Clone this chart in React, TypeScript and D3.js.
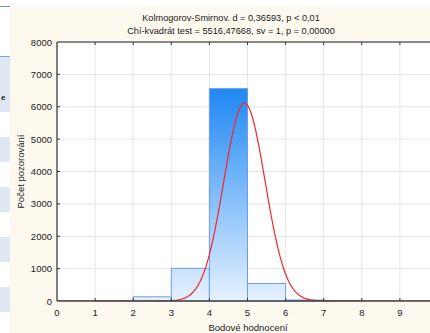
import React, { useEffect, useRef } from 'react';
import * as d3 from 'd3';

// histogram bins: [from, to] and counts
const binStarts = [0, 1, 2, 3, 4, 5, 6, 7];
const binCounts = [0, 12, 130, 1010, 6560, 540, 30, 2];

const xTicks = [0, 1, 2, 3, 4, 5, 6, 7, 8, 9];
const yTicks = [0, 1000, 2000, 3000, 4000, 5000, 6000, 7000, 8000];

// fitted normal (expected curve)
const fitMean = 4.92;
const fitSd = 0.54;
const fitN = 8284;

const titleLines = [
  'Kolmogorov-Smirnov. d = 0,36593, p < 0,01',
  'Chí-kvadrát test = 5516,47668, sv = 1, p = 0,00000',
];

const W = 430;
const H = 333;

const App: React.FC = () => {
  const svgRef = useRef<SVGSVGElement>(null);

  useEffect(() => {
    if (!svgRef.current) return;
    const svg = d3.select(svgRef.current);
    svg.selectAll('*').remove();

    const left = 57, top = 42, bottom = 301, right = 438;
    const x = d3.scaleLinear().domain([0, 10]).range([left, right]);
    const y = d3.scaleLinear().domain([0, 8000]).range([bottom, top]);
    const font = 'Arial, "Liberation Sans", sans-serif';

    // page stuff on the left
    svg.append('rect').attr('width', W).attr('height', H).attr('fill', '#ffffff');
    svg.append('line').attr('x1', 0).attr('x2', 10).attr('y1', 6.5).attr('y2', 6.5)
      .attr('stroke', '#6b96d4').attr('stroke-width', 1);
    [[56, 112], [137, 162], [187, 212], [237, 262], [287, 312]].forEach(([a, b], i) => {
      svg.append('rect').attr('x', 0).attr('y', a).attr('width', 10).attr('height', b - a)
        .attr('fill', '#dfe7f3');
      if (i === 0) {
        svg.append('line').attr('x1', 0).attr('x2', 10).attr('y1', a + 0.5).attr('y2', a + 0.5)
          .attr('stroke', '#7fa3da');
      }
    });
    svg.append('text').attr('x', 1).attr('y', 100).attr('font-family', font)
      .attr('font-size', 8).attr('font-weight', 'bold').attr('fill', '#222').text('e');

    // cream panel
    svg.append('rect').attr('x', 10).attr('y', 7).attr('width', W).attr('height', H)
      .attr('fill', '#fdf9ef');

    // title
    titleLines.forEach((t, i) => {
      svg.append('text').attr('x', 231).attr('y', 21 + i * 13)
        .attr('text-anchor', 'middle').attr('font-family', font).attr('font-size', 9.2)
        .attr('fill', '#222').text(t);
    });

    // plot area
    svg.append('rect').attr('x', left).attr('y', top).attr('width', right - left)
      .attr('height', bottom - top).attr('fill', '#ffffff');

    const defs = svg.append('defs');
    const grad = defs.append('linearGradient').attr('id', 'barGrad')
      .attr('gradientUnits', 'userSpaceOnUse')
      .attr('x1', 0).attr('x2', 0).attr('y1', y(6560)).attr('y2', bottom);
    grad.append('stop').attr('offset', '0%').attr('stop-color', '#1e87f4');
    grad.append('stop').attr('offset', '100%').attr('stop-color', '#e6f2fe');
    defs.append('clipPath').attr('id', 'plotClip').append('rect')
      .attr('x', left).attr('y', top).attr('width', right - left).attr('height', bottom - top);

    // grid
    svg.append('g').selectAll('line').data(xTicks.slice(1)).join('line')
      .attr('x1', d => x(d)).attr('x2', d => x(d)).attr('y1', top).attr('y2', bottom)
      .attr('stroke', '#e6e6e6').attr('stroke-width', 1);
    svg.append('g').selectAll('line').data(yTicks.slice(1, -1)).join('line')
      .attr('x1', left).attr('x2', right).attr('y1', d => y(d)).attr('y2', d => y(d))
      .attr('stroke', '#e6e6e6').attr('stroke-width', 1);

    // bars
    svg.append('g').selectAll('rect').data(binStarts.map((s, i) => ({ s, c: binCounts[i] })).filter(d => d.c > 0))
      .join('rect')
      .attr('x', d => x(d.s))
      .attr('width', d => x(d.s + 1) - x(d.s))
      .attr('y', d => y(d.c))
      .attr('height', d => bottom - y(d.c))
      .attr('fill', 'url(#barGrad)')
      .attr('stroke', '#6f9ee0')
      .attr('stroke-width', 1);

    // fitted normal curve
    const pts = d3.range(0, 10.001, 0.05).map(v => [v,
      fitN * Math.exp(-0.5 * ((v - fitMean) / fitSd) ** 2) / (fitSd * Math.sqrt(2 * Math.PI))]);
    svg.append('path').datum(pts)
      .attr('clip-path', 'url(#plotClip)')
      .attr('d', d3.line<number[]>().x(d => x(d[0])).y(d => y(d[1])).curve(d3.curveBasis))
      .attr('fill', 'none').attr('stroke', '#f0282d').attr('stroke-width', 1.2);

    // frame
    svg.append('line').attr('x1', left).attr('x2', W).attr('y1', top).attr('y2', top)
      .attr('stroke', '#8a8a8a').attr('stroke-width', 2);
    svg.append('line').attr('x1', left).attr('x2', left).attr('y1', top).attr('y2', bottom)
      .attr('stroke', '#555').attr('stroke-width', 1.5);
    svg.append('line').attr('x1', left).attr('x2', W).attr('y1', bottom).attr('y2', bottom)
      .attr('stroke', '#444').attr('stroke-width', 1.5);

    // ticks
    const tk = svg.append('g').attr('stroke', '#333').attr('stroke-width', 1);
    xTicks.slice(1).forEach(d => {
      tk.append('line').attr('x1', x(d)).attr('x2', x(d)).attr('y1', top).attr('y2', top + 3);
      tk.append('line').attr('x1', x(d)).attr('x2', x(d)).attr('y1', bottom).attr('y2', bottom - 3);
    });
    yTicks.slice(1, -1).forEach(d => {
      tk.append('line').attr('x1', left).attr('x2', left + 3).attr('y1', y(d)).attr('y2', y(d));
    });

    // tick labels
    svg.append('g').selectAll('text').data(yTicks).join('text')
      .attr('x', left - 5).attr('y', d => y(d) + 3.5)
      .attr('text-anchor', 'end').attr('font-family', font).attr('font-size', 9.5)
      .attr('fill', '#222').text(d => String(d));
    svg.append('g').selectAll('text').data(xTicks).join('text')
      .attr('x', d => x(d)).attr('y', 316)
      .attr('text-anchor', 'middle').attr('font-family', font).attr('font-size', 9.5)
      .attr('fill', '#222').text(d => String(d));

    // axis titles
    svg.append('text').attr('x', 248).attr('y', 331).attr('text-anchor', 'middle')
      .attr('font-family', font).attr('font-size', 9.5).attr('fill', '#222')
      .text('Bodové hodnocení');
    svg.append('text').attr('transform', `translate(24,${(top + bottom) / 2}) rotate(-90)`)
      .attr('text-anchor', 'middle').attr('font-family', font).attr('font-size', 9.5)
      .attr('fill', '#222').text('Počet pozorování');
  }, []);

  return (
    <svg ref={svgRef} width={W} height={H}
      style={{ position: 'absolute', left: 0, top: 0, display: 'block' }} />
  );
};

export default App;
